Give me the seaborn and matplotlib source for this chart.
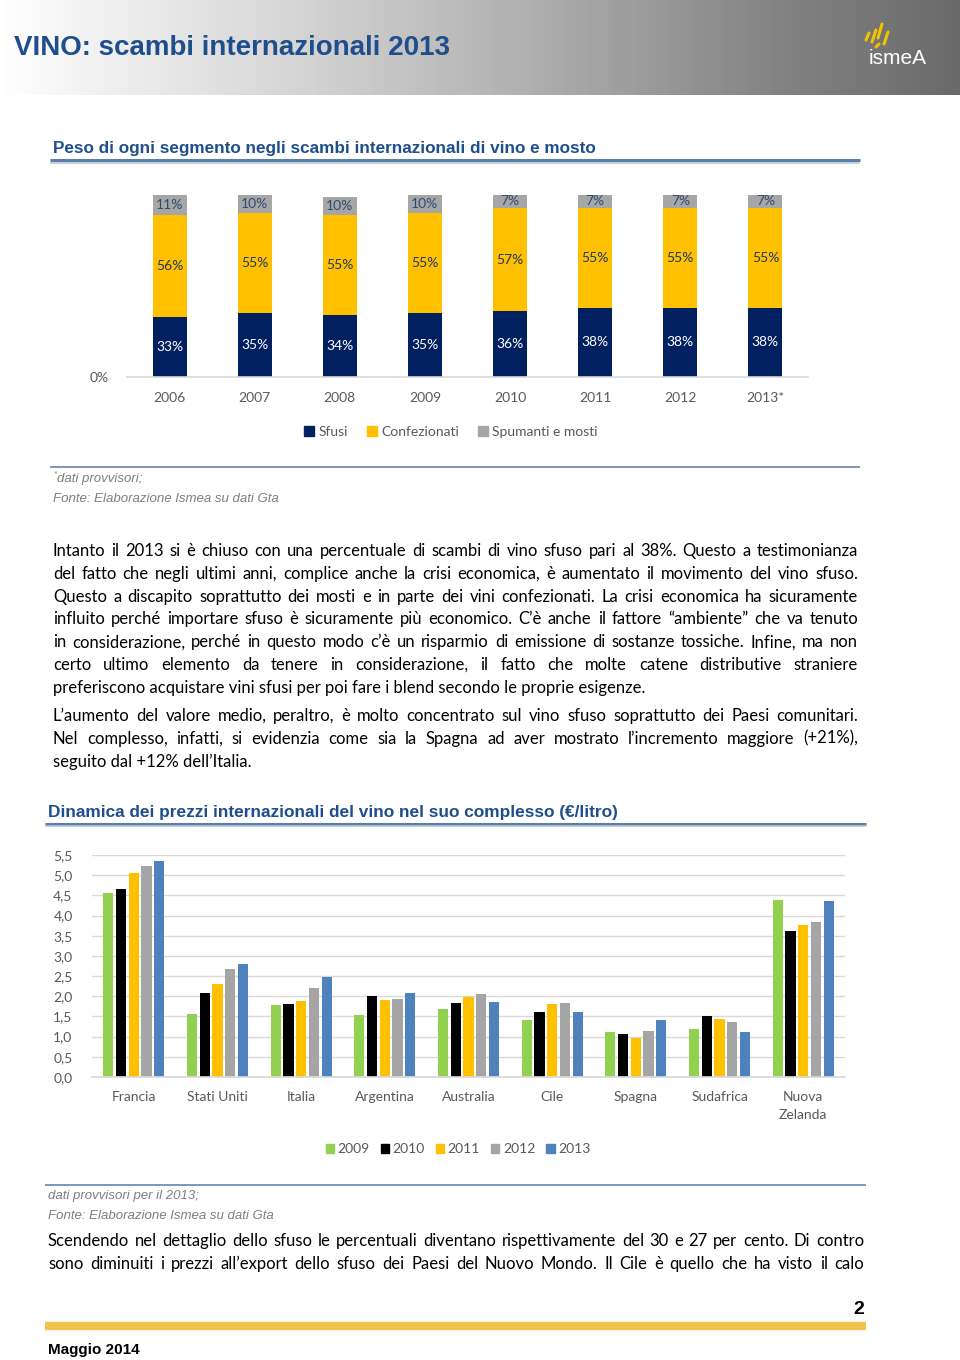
import numpy as np
import pandas as pd
import matplotlib
matplotlib.use("Agg")
import matplotlib.pyplot as plt
import seaborn as sns
from matplotlib.colors import LinearSegmentedColormap
from matplotlib.patches import Patch
from matplotlib.lines import Line2D

# -----------------------------
# Data: chart 1 (share of each segment, %)
# -----------------------------
years = ['2006', '2007', '2008', '2009', '2010', '2011', '2012', '2013*']
sfusi = [33, 35, 34, 35, 36, 38, 38, 38]
confezionati = [56, 55, 55, 55, 57, 55, 55, 55]
spumanti = [11, 10, 10, 10, 7, 7, 7, 7]

# -----------------------------
# Data: chart 2 (prices, euro/litre)
# -----------------------------
countries = ['Francia', 'Stati Uniti', 'Italia', 'Argentina', 'Australia',
             'Cile', 'Spagna', 'Sudafrica', 'Nuova Zelanda']
price_years = ['2009', '2010', '2011', '2012', '2013']
p2009 = [4.57, 1.56, 1.79, 1.54, 1.68, 1.41, 1.12, 1.20, 4.38]
p2010 = [4.67, 2.08, 1.81, 2.00, 1.84, 1.60, 1.07, 1.50, 3.61]
p2011 = [5.05, 2.31, 1.89, 1.91, 1.98, 1.82, 0.97, 1.43, 3.77]
p2012 = [5.22, 2.68, 2.20, 1.94, 2.06, 1.84, 1.15, 1.36, 3.84]
p2013 = [5.35, 2.81, 2.47, 2.07, 1.86, 1.60, 1.40, 1.11, 4.37]

W, H = 960, 1360
BLUE_T = '#1f4e8c'
NAVY, YEL, GRY = '#002060', '#ffc000', '#a6a6a6'
TXT = '#595959'
BODY = ['Lato', 'DejaVu Sans']
NARROW = ['Liberation Sans Narrow', 'Liberation Sans', 'DejaVu Sans']
ARIAL = ['Liberation Sans', 'DejaVu Sans']

sns.set_theme(style="white")
plt.rcParams['font.family'] = BODY

fig = plt.figure(figsize=(9.6, 13.6), dpi=100)


def px(x, y):
    return x / W, 1 - y / H


def hline(x0, x1, y, color, lw):
    fig.add_artist(Line2D([x0 / W, x1 / W], [1 - y / H, 1 - y / H], color=color, lw=lw,
                          solid_capstyle='butt'))


def justified(lines, x0, x1, y0, dy, last_left=True, **kw):
    r = fig.canvas.get_renderer()
    for i, line in enumerate(lines):
        y = y0 + i * dy
        if i == len(lines) - 1 and last_left:
            fig.text(*px(x0, y), line, va='center', ha='left', **kw)
            continue
        words = line.split(' ')
        ts = [fig.text(0, 0, w, va='center', ha='left', **kw) for w in words]
        widths = [t.get_window_extent(r).width for t in ts]
        gap = (x1 - x0 - sum(widths)) / (len(words) - 1)
        x = x0
        for t, w in zip(ts, widths):
            t.set_position(px(x, y))
            x += w + gap


# -----------------------------
# Header band
# -----------------------------
ax_h = fig.add_axes([0, 1 - 95 / H, 1, 95 / H])
cmap = LinearSegmentedColormap.from_list('hdr', [(0, '#ffffff'), (0.3, '#d6d6d6'),
                                                 (0.55, '#b0b0b0'), (0.8, '#858585'),
                                                 (1, '#6a6a6a')])
ax_h.imshow(np.linspace(0, 1, 256)[None, :], aspect='auto', cmap=cmap, extent=[0, 1, 0, 1])
ax_h.axis('off')
fig.text(*px(14, 48), 'VINO: scambi internazionali 2013', fontsize=20, fontweight='bold',
         color=BLUE_T, family=NARROW, va='center')
fig.text(*px(898, 58), 'ismeA', fontsize=15, color='white', ha='center', va='center',
         family=ARIAL)
for (xa, ya, xb, yb) in [(866, 40, 869, 33), (872, 42, 876, 30), (878, 38, 882, 24),
                         (884, 44, 888, 32), (876, 47, 879, 44)]:
    fig.add_artist(Line2D([xa / W, xb / W], [1 - ya / H, 1 - yb / H], color='#f2c300', lw=2.2))

# -----------------------------
# Chart 1: stacked shares
# -----------------------------
fig.text(*px(53, 149), 'Peso di ogni segmento negli scambi internazionali di vino e mosto',
         fontsize=12.3, fontweight='bold', color=BLUE_T, family=NARROW, va='center')
hline(50, 860, 160, '#5d7ea3', 2.2)
hline(50, 860, 162.5, '#b7c7d9', 1.2)

seg = pd.DataFrame({'anno': years, 'Sfusi': sfusi, 'Confezionati': confezionati,
                    'Spumanti e mosti': spumanti})
seg['top2'] = seg['Sfusi'] + seg['Confezionati']
seg['top3'] = seg['top2'] + seg['Spumanti e mosti']

ax1 = fig.add_axes([127 / W, 1 - 377 / H, 681 / W, 182 / H])
for col, c in [('top3', GRY), ('top2', YEL), ('Sfusi', NAVY)]:
    sns.barplot(data=seg, x='anno', y=col, color=c, width=0.4, saturation=1,
                linewidth=0, ax=ax1)
for i in range(len(years)):
    s, c, g = sfusi[i], confezionati[i], spumanti[i]
    ax1.text(i, s / 2, f'{s}%', ha='center', va='center', color='white', fontsize=10)
    ax1.text(i, s + c / 2, f'{c}%', ha='center', va='center', color='#1f3864', fontsize=10)
    ax1.text(i, s + c + g / 2, f'{g}%', ha='center', va='center', color='#2f4a70', fontsize=10)
ax1.set_xlim(-0.5, len(years) - 0.5)
ax1.set_ylim(0, 100)
ax1.set_yticks([0])
ax1.set_yticklabels(['0%'])
ax1.set_xlabel('')
ax1.set_ylabel('')
for sp in ['top', 'right', 'left']:
    ax1.spines[sp].set_visible(False)
ax1.spines['bottom'].set_color('#d9d9d9')
ax1.spines['bottom'].set_linewidth(1.2)
ax1.tick_params(axis='x', length=0, pad=11, labelsize=10, labelcolor=TXT)
ax1.tick_params(axis='y', length=0, pad=13, labelsize=10, labelcolor=TXT)
ax1.legend(handles=[Patch(color=NAVY, label='Sfusi'), Patch(color=YEL, label='Confezionati'),
                    Patch(color=GRY, label='Spumanti e mosti')],
           loc='center', bbox_to_anchor=px(451, 432), bbox_transform=fig.transFigure,
           ncol=3, frameon=False, fontsize=10, handlelength=0.7, handleheight=0.7,
           handletextpad=0.3, columnspacing=1.4, labelcolor=TXT)

hline(50, 860, 467, '#6f8fb5', 1.3)
fig.text(*px(54, 474), '*', fontsize=6, style='italic', color='#7f7f7f', family=ARIAL, va='center')
fig.text(*px(57, 479), 'dati provvisori;', fontsize=9.5, style='italic', color='#7f7f7f',
         family=ARIAL, va='center')
fig.text(*px(53, 499), 'Fonte: Elaborazione Ismea su dati Gta', fontsize=9.5, style='italic',
         color='#7f7f7f', family=ARIAL, va='center')

# -----------------------------
# Body text
# -----------------------------
par1 = [
    "Intanto il 2013 si è chiuso con una percentuale di scambi di vino sfuso pari al 38%. Questo a testimonianza",
    "del fatto che negli ultimi anni, complice anche la crisi economica, è aumentato il movimento del vino sfuso.",
    "Questo a discapito soprattutto dei mosti e in parte dei vini confezionati. La crisi economica ha sicuramente",
    "influito perché importare sfuso è sicuramente più economico. C’è anche il fattore “ambiente” che va tenuto",
    "in considerazione, perché in questo modo c’è un risparmio di emissione di sostanze tossiche. Infine, ma non",
    "certo ultimo elemento da tenere in considerazione, il fatto che molte catene distributive straniere",
    "preferiscono acquistare vini sfusi per poi fare i blend secondo le proprie esigenze.",
]
par2 = [
    "L’aumento del valore medio, peraltro, è molto concentrato sul vino sfuso soprattutto dei Paesi comunitari.",
    "Nel complesso, infatti, si evidenzia come sia la Spagna ad aver mostrato l’incremento maggiore (+21%),",
    "seguito dal +12% dell’Italia.",
]
par3 = [
    "Scendendo nel dettaglio dello sfuso le percentuali diventano rispettivamente del 30 e 27 per cento. Di contro",
    "sono diminuiti i prezzi all’export dello sfuso dei Paesi del Nuovo Mondo. Il Cile è quello che ha visto il calo",
]
justified(par1, 53, 858, 551, 22.8, fontsize=12, color='black')
justified(par2, 53, 858, 716, 22.8, fontsize=12, color='black')

# -----------------------------
# Chart 2: prices
# -----------------------------
fig.text(*px(48, 813), 'Dinamica dei prezzi internazionali del vino nel suo complesso (€/litro)',
         fontsize=12.4, fontweight='bold', color=BLUE_T, family=NARROW, va='center')
hline(45, 866, 824, '#5d7ea3', 2.2)
hline(45, 866, 826.5, '#b7c7d9', 1.2)

prezzi = pd.DataFrame({'paese': countries * 5,
                       'anno': np.repeat(price_years, len(countries)),
                       'valore': p2009 + p2010 + p2011 + p2012 + p2013})
pal = {'2009': '#92d050', '2010': '#000000', '2011': '#ffc000', '2012': '#a5a5a5', '2013': '#4f81bd'}

ax2 = fig.add_axes([92 / W, 1 - 1077 / H, 753 / W, 222 / H])
sns.barplot(data=prezzi, x='paese', y='valore', hue='anno', hue_order=price_years, palette=pal,
            width=0.76, gap=0.2, saturation=1, linewidth=0, legend=False, ax=ax2)
ax2.set_xlim(-0.5, len(countries) - 0.5)
ax2.set_ylim(0, 5.5)
ticks = np.arange(0, 5.51, 0.5)
ax2.set_yticks(ticks)
ax2.set_yticklabels([f'{t:.1f}'.replace('.', ',') for t in ticks])
ax2.set_xticks(range(len(countries)))
ax2.set_xticklabels([c.replace(' ', '\n') if c == 'Nuova Zelanda' else c for c in countries],
                    linespacing=1.65, va='top')
ax2.set_xlabel('')
ax2.set_ylabel('')
ax2.grid(axis='y', color='#d9d9d9', lw=1)
ax2.set_axisbelow(True)
for sp in ['top', 'right', 'left']:
    ax2.spines[sp].set_visible(False)
ax2.spines['bottom'].set_color('#d9d9d9')
ax2.tick_params(axis='x', length=0, pad=10, labelsize=10, labelcolor=TXT)
ax2.tick_params(axis='y', length=0, pad=14, labelsize=10, labelcolor=TXT)
ax2.legend(handles=[Patch(color=pal[y], label=y) for y in price_years],
           loc='center', bbox_to_anchor=px(458, 1149), bbox_transform=fig.transFigure,
           ncol=5, frameon=False, fontsize=10, handlelength=0.6, handleheight=0.6,
           handletextpad=0.25, columnspacing=0.8, labelcolor=TXT)

hline(45, 866, 1185, '#6f8fb5', 1.3)
fig.text(*px(48, 1196), 'dati provvisori per il 2013;', fontsize=9.5, style='italic',
         color='#7f7f7f', family=ARIAL, va='center')
fig.text(*px(48, 1216), 'Fonte: Elaborazione Ismea su dati Gta', fontsize=9.5, style='italic',
         color='#7f7f7f', family=ARIAL, va='center')
justified(par3, 48, 864, 1241, 22.8, last_left=False, fontsize=12, color='black')

# -----------------------------
# Footer
# -----------------------------
fig.text(*px(864, 1310), '2', fontsize=14, fontweight='bold', color='black', family=ARIAL,
         ha='right', va='center')
hline(45, 866, 1326, '#f2c14e', 6)
fig.text(*px(48, 1350), 'Maggio 2014', fontsize=11, fontweight='bold', color='black',
         family=ARIAL, va='center')

fig.savefig('out.png', dpi=100)
